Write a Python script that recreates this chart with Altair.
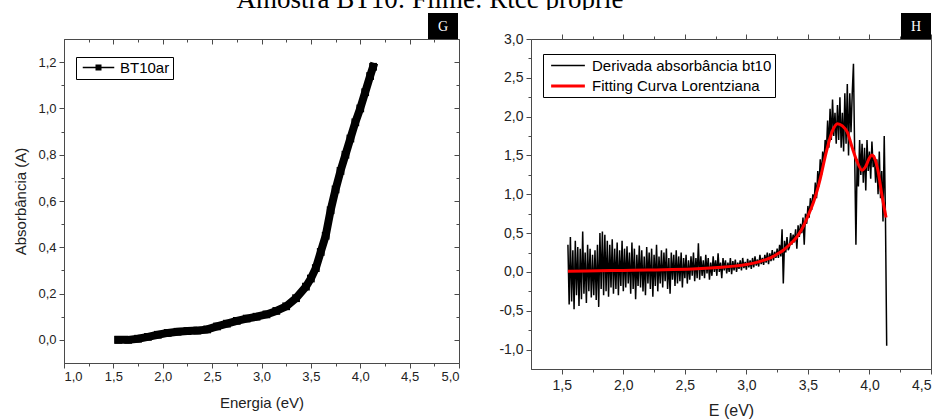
import altair as alt
import pandas as pd

# ---------------- data ----------------
title_text = "Amostra BT10: Filme: Rtcc proprie"
panel_g_label = "G"
panel_h_label = "H"

# Panel G: absorbance vs energy
g_energy = [1.55, 1.65, 1.75, 1.85, 1.95, 2.05, 2.15, 2.25, 2.35, 2.45, 2.55, 2.65, 2.75,
            2.85, 2.95, 3.05, 3.15, 3.25, 3.35, 3.45, 3.50, 3.55, 3.60, 3.65, 3.70, 3.75,
            3.80, 3.85, 3.90, 3.95, 4.00, 4.05, 4.10, 4.13]
g_absorb = [0.000, 0.000, 0.005, 0.013, 0.022, 0.030, 0.035, 0.038, 0.040, 0.045, 0.058, 0.070,
            0.082, 0.092, 0.100, 0.110, 0.125, 0.145, 0.180, 0.230, 0.265, 0.310, 0.380, 0.450,
            0.560, 0.650, 0.730, 0.800, 0.870, 0.940, 1.000, 1.070, 1.140, 1.180]
g_series = ["BT10ar"]

# Panel H: derivative of absorbance (sampled every 0.01 eV from 1.55 eV)
h_energy_start = 1.55
h_energy_step = 0.01
h_deriv = [
    0.35, -0.42, 0.45, -0.38, 0.28, -0.48, 0.40, -0.30, 0.32, -0.44,
    0.30, -0.35, 0.52, -0.28, 0.25, -0.40, 0.35, -0.25, 0.30, -0.33,
    0.22, -0.30, 0.28, -0.36, 0.35, -0.45, 0.50, -0.22, 0.52, -0.30,
    0.48, -0.25, 0.40, -0.32, 0.35, -0.20, 0.42, -0.28, 0.30, -0.22,
    0.38, -0.30, 0.28, -0.18, 0.40, -0.25, 0.30, -0.20, 0.33, -0.15,
    0.25, -0.28, 0.38, -0.22, 0.30, -0.35, 0.22, -0.18, 0.34, -0.20,
    0.28, -0.25, 0.20, -0.30, 0.32, -0.15, 0.25, -0.22, 0.30, -0.32,
    0.22, -0.18, 0.35, -0.25, 0.20, -0.15, 0.28, -0.20, 0.25, -0.12,
    0.30, -0.22, 0.18, -0.28, 0.25, -0.10, 0.22, -0.18, 0.28, -0.15,
    0.20, -0.12, 0.25, -0.20, 0.18, -0.08, 0.22, -0.15, 0.15, -0.10,
    0.20, -0.05, 0.25, -0.12, 0.18, -0.08, 0.37, -0.10, 0.20, -0.05,
    0.15, -0.08, 0.22, -0.02, 0.18, -0.10, 0.12, -0.05, 0.20, 0.00,
    0.15, -0.05, 0.24, 0.00, 0.12, -0.08, 0.18, 0.02, 0.15, -0.02,
    0.12, 0.00, 0.18, -0.03, 0.14, 0.02, 0.16, 0.00, 0.12, 0.04,
    0.15, 0.02, 0.18, 0.05, 0.13, 0.03, 0.17, 0.06, 0.15, 0.04,
    0.18, 0.06, 0.20, 0.08, 0.16, 0.07, 0.22, 0.10, 0.18, 0.09,
    0.22, 0.12, 0.25, 0.10, 0.24, 0.14, 0.28, 0.15, 0.26, 0.18,
    0.30, 0.18, 0.35, 0.20, 0.55, -0.15, 0.40, 0.25, 0.45, 0.28,
    0.32, 0.50, 0.35, 0.48, 0.38, 0.55, 0.30, 0.60, 0.45, 0.62,
    0.50, 0.70, 0.35, 0.75, 0.62, 0.85, 0.70, 0.95, 0.80, 1.00,
    0.90, 1.15, 0.95, 1.30, 1.10, 1.45, 1.25, 1.55, 1.40, 1.70,
    1.55, 1.95, 1.60, 2.10, 1.70, 2.22, 1.75, 2.05, 1.65, 2.15,
    1.70, 2.25, 1.60, 2.05, 1.55, 2.30, 1.65, 2.42, 1.50, 2.30,
    1.80, 2.30, 2.68, 1.50, 0.35, 1.45, 1.10, 1.70, 1.25, 1.65,
    1.15, 1.60, 1.05, 1.70, 1.30, 1.55, 1.20, 1.68, 1.35, 1.50,
    1.15, 1.45, 1.00, 1.55, 0.95, 1.30, 0.65, 1.75, 0.70, -0.95,
]
# Lorentzian fit
fit_energy = [1.55, 1.80, 2.00, 2.20, 2.40, 2.60, 2.80, 2.90, 3.00, 3.05, 3.10, 3.15, 3.20,
              3.25, 3.30, 3.35, 3.40, 3.45, 3.50, 3.55, 3.60, 3.65, 3.70, 3.74, 3.78, 3.82,
              3.86, 3.90, 3.94, 3.97, 4.00, 4.02, 4.04, 4.07, 4.10, 4.135]
fit_value = [0.010, 0.015, 0.020, 0.025, 0.030, 0.040, 0.060, 0.075, 0.095, 0.110, 0.130,
             0.155, 0.185, 0.230, 0.280, 0.350, 0.430, 0.550, 0.720, 0.920, 1.200, 1.550,
             1.820, 1.910, 1.880, 1.800, 1.600, 1.420, 1.310, 1.360, 1.470, 1.505, 1.470,
             1.300, 1.000, 0.700]
h_series = ["Derivada absorbância bt10", "Fitting Curva Lorentziana"]

# ticks
g_x_major = [1.0, 1.5, 2.0, 2.5, 3.0, 3.5, 4.0, 4.5, 5.0]
g_x_minor = [1.25, 1.75, 2.25, 2.75, 3.25, 3.75, 4.25, 4.75]
g_y_major = [0.0, 0.2, 0.4, 0.6, 0.8, 1.0, 1.2]
g_y_minor = [0.1, 0.3, 0.5, 0.7, 0.9, 1.1]
h_x_major = [1.5, 2.0, 2.5, 3.0, 3.5, 4.0, 4.5]
h_x_minor = [1.75, 2.25, 2.75, 3.25, 3.75, 4.25]
h_y_major = [-1.0, -0.5, 0.0, 0.5, 1.0, 1.5, 2.0, 2.5, 3.0]
h_y_minor = [-0.75, -0.25, 0.25, 0.75, 1.25, 1.75, 2.25, 2.75]

# ---------------- style ----------------
FONT = "Liberation Sans"
AX = "#4a4a4a"
TXT = "#222222"
W_G, H_G = 395, 324
W_H, H_H = 400, 330
LABEL = "replace(replace(format(datum.value, '.1f'), '.', ','), '\u2212', '-')"


def minor_axis(orient, values, size=3, offset=0):
    return alt.Axis(orient=orient, values=values, tickSize=size, labels=False,
                    domain=False, grid=False, title=None, offset=offset, tickColor=AX)


# ---------------- panel G ----------------
g_df = pd.DataFrame({"energia": g_energy, "absorb": g_absorb, "serie": g_series[0]})
xs_g = alt.Scale(domain=[1.0, 5.0], nice=False, zero=False)
ys_g = alt.Scale(domain=[-0.1, 1.3], nice=False, zero=False)
base_g = alt.Chart(g_df)

g_line = base_g.mark_line(color="black", strokeWidth=8, strokeCap="square",
                          strokeJoin="round").encode(
    x=alt.X("energia:Q", scale=xs_g, axis=alt.Axis(
        orient="bottom", values=g_x_major, tickSize=5, labelExpr=LABEL, labelFontSize=13,
        labelPadding=2, title="Energia (eV)", titleFontSize=15, titlePadding=12,
        grid=False, domainColor=AX, tickColor=AX)),
    y=alt.Y("absorb:Q", scale=ys_g, axis=alt.Axis(
        orient="left", values=g_y_major, tickSize=5, labelExpr=LABEL, labelFontSize=13,
        labelPadding=3, title="Absorbância (A)", titleFontSize=15, titlePadding=9,
        grid=False, domainColor=AX, tickColor=AX)),
)

legend_g_path = "M-2.1,-0.09H-0.4V-0.4H0.4V-0.09H2.1V0.09H0.4V0.4H-0.4V0.09H-2.1Z"
g_pts = base_g.mark_point(shape="square", filled=True, size=60, opacity=1).encode(
    x=alt.X("energia:Q", scale=xs_g, axis=minor_axis("bottom", g_x_minor)),
    y=alt.Y("absorb:Q", scale=ys_g, axis=minor_axis("left", g_y_minor)),
    color=alt.Color("serie:N", scale=alt.Scale(domain=g_series, range=["black"]),
                    legend=alt.Legend(orient="none", legendX=12, legendY=18, title=None,
                                      strokeColor="black", fillColor="white", padding=3,
                                      labelFont=FONT, labelFontSize=15, labelColor="black",
                                      symbolType=legend_g_path, symbolSize=225,
                                      symbolOffset=12, labelOffset=14, labelLimit=300,
                                      symbolStrokeWidth=0)),
)
g_top = base_g.mark_line(opacity=0).encode(
    x=alt.X("energia:Q", scale=xs_g, axis=minor_axis("top", g_x_major, 5, -5)),
    y=alt.Y("absorb:Q", scale=ys_g, axis=minor_axis("right", g_y_major, 5, -5)),
)
g_top2 = base_g.mark_line(opacity=0).encode(
    x=alt.X("energia:Q", scale=xs_g, axis=minor_axis("top", g_x_minor, 3, -3)),
    y=alt.Y("absorb:Q", scale=ys_g, axis=minor_axis("right", g_y_minor, 3, -3)),
)
g_badge_data = alt.Data(values=[{"lab": panel_g_label}])
g_badge = alt.Chart(g_badge_data).mark_rect(color="black").encode(
    x=alt.value(W_G - 31), x2=alt.value(W_G - 1), y=alt.value(-26), y2=alt.value(0))
g_badge_t = alt.Chart(g_badge_data).mark_text(
    color="white", font="Liberation Serif", fontSize=14, baseline="middle", align="center"
).encode(text="lab:N", x=alt.value(W_G - 16), y=alt.value(-12))

panel_g = alt.layer(g_line, g_pts, g_top, g_top2, g_badge, g_badge_t).resolve_axis(
    x="independent", y="independent").properties(width=W_G, height=H_G)

# ---------------- panel H ----------------
h_df = pd.DataFrame({
    "E": [round(h_energy_start + i * h_energy_step, 2) for i in range(len(h_deriv))],
    "val": h_deriv, "serie": h_series[0]})
fit_df = pd.DataFrame({"E": fit_energy, "val": fit_value, "serie": h_series[1]})
xs_h = alt.Scale(domain=[1.25, 4.5], nice=False, zero=False)
ys_h = alt.Scale(domain=[-1.25, 3.0], nice=False, zero=False)
col_h = alt.Scale(domain=h_series, range=["black", "#ff0000"])
sw_h = alt.Scale(domain=h_series, range=[1.5, 3.0])
legend_h = alt.Legend(orient="none", legendX=12, legendY=15, title=None,
                      strokeColor="black", fillColor="white", padding=3, rowPadding=3,
                      labelFont=FONT, labelFontSize=15, labelColor="black", labelLimit=400,
                      symbolType="M-2.25,0H2.25", symbolSize=225, symbolOffset=13,
                      labelOffset=15)

h_line = alt.Chart(h_df).mark_line().encode(
    x=alt.X("E:Q", scale=xs_h, axis=alt.Axis(
        orient="bottom", values=h_x_major, tickSize=5, labelExpr=LABEL, labelFontSize=14,
        labelPadding=4, labelFlush=True, title="E (eV)", titleFontSize=16, titlePadding=10,
        grid=False, domainColor=AX, tickColor=AX)),
    y=alt.Y("val:Q", scale=ys_h, axis=alt.Axis(
        orient="left", values=h_y_major, tickSize=5, labelExpr=LABEL, labelFontSize=14,
        labelPadding=3, title=None, grid=False, domainColor=AX, tickColor=AX)),
    color=alt.Color("serie:N", scale=col_h, legend=legend_h),
    strokeWidth=alt.StrokeWidth("serie:N", scale=sw_h, legend=legend_h),
)
h_fit = alt.Chart(fit_df).mark_line(interpolate="monotone").encode(
    x=alt.X("E:Q", scale=xs_h, axis=minor_axis("bottom", h_x_minor)),
    y=alt.Y("val:Q", scale=ys_h, axis=minor_axis("left", h_y_minor)),
    color=alt.Color("serie:N", scale=col_h, legend=legend_h),
    strokeWidth=alt.StrokeWidth("serie:N", scale=sw_h, legend=legend_h),
)
h_top = alt.Chart(fit_df).mark_line(opacity=0).encode(
    x=alt.X("E:Q", scale=xs_h, axis=minor_axis("top", h_x_major, 5)),
    y=alt.Y("val:Q", scale=ys_h, axis=None),
)
h_top2 = alt.Chart(fit_df).mark_line(opacity=0).encode(
    x=alt.X("E:Q", scale=xs_h, axis=minor_axis("top", h_x_minor, 3)),
    y=alt.Y("val:Q", scale=ys_h, axis=None),
)
h_badge_data = alt.Data(values=[{"lab": panel_h_label}])
h_badge = alt.Chart(h_badge_data).mark_rect(color="black").encode(
    x=alt.value(W_H - 30), x2=alt.value(W_H), y=alt.value(-26), y2=alt.value(0))
h_badge_t = alt.Chart(h_badge_data).mark_text(
    color="white", font="Liberation Serif", fontSize=14, baseline="middle", align="center"
).encode(text="lab:N", x=alt.value(W_H - 15), y=alt.value(-12))

panel_h = alt.layer(h_line, h_fit, h_top, h_top2, h_badge, h_badge_t).resolve_axis(
    x="independent", y="independent").properties(width=W_H, height=H_H)

# ---------------- top (cropped) caption ----------------
top = alt.Chart(alt.Data(values=[{"t": title_text}])).mark_text(
    clip=True, font="Liberation Serif", fontSize=27, align="center", baseline="alphabetic",
    color="black"
).encode(text="t:N", x=alt.value(366), y=alt.value(8)).properties(
    width=800, height=10, view=alt.ViewBackground(strokeOpacity=0))

panels = alt.hconcat(panel_g, panel_h, spacing=38).resolve_scale(
    color="independent", strokeWidth="independent")

chart = alt.vconcat(top, panels, spacing=2).properties(
    padding={"left": 13, "top": 0, "right": 0, "bottom": 0}
).configure_view(stroke=AX, strokeWidth=1).configure_axis(
    labelFont=FONT, titleFont=FONT, labelColor=TXT, titleColor=TXT,
    titleFontWeight="normal", tickColor=AX, domainColor=AX)

chart.save("out.html", embed_options={"renderer": "svg", "actions": False})
